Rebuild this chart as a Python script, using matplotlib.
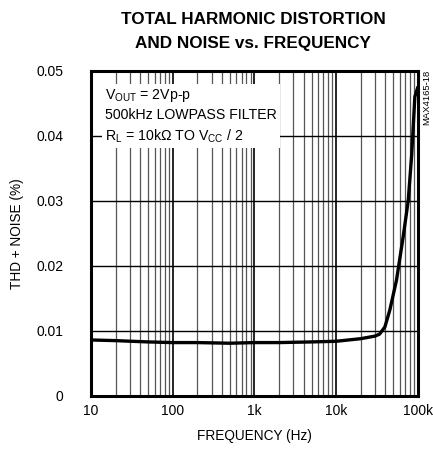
import numpy as np
import matplotlib
matplotlib.use("Agg")
import matplotlib.pyplot as plt
from matplotlib.ticker import FixedLocator, NullFormatter

plt.rcParams['font.family'] = ['Liberation Sans', 'DejaVu Sans']
plt.rcParams['mathtext.fontset'] = 'custom'
plt.rcParams['mathtext.rm'] = 'Liberation Sans'
plt.rcParams['mathtext.it'] = 'Liberation Sans'

# data
freq = [10, 20, 50, 100, 200, 500, 1000, 2000, 5000, 10000, 20000, 30000,
        34000, 39500, 45400, 54800, 66200, 76200, 84000, 91900, 100000]
thd = [0.0086, 0.0085, 0.0083, 0.0082, 0.0082, 0.0081, 0.0082, 0.0082, 0.0083, 0.0084, 0.0088, 0.0092,
       0.0095, 0.0106, 0.0132, 0.0178, 0.0245, 0.0300, 0.0370, 0.0460, 0.0475]

xticks = [10, 100, 1000, 10000, 100000]
xlabels = ['10', '100', '1k', '10k', '100k']
yticks = [0, 0.01, 0.02, 0.03, 0.04, 0.05]
ylabels = ['0', '0.01', '0.02', '0.03', '0.04', '0.05']

fig = plt.figure(figsize=(4.33, 4.54), dpi=100)
ax = fig.add_axes([0.210, 0.128, 0.755, 0.716])

ax.set_xscale('log')
ax.set_xlim(10, 100000)
ax.set_ylim(0, 0.05)

minor = [m * 10**d for d in range(1, 5) for m in range(2, 10)]
for f in minor:
    ax.axvline(f, color='#555555', lw=0.9, zorder=1)
for f in xticks[1:-1]:
    ax.axvline(f, color='black', lw=1.2, zorder=1)
for v in yticks[1:-1]:
    ax.axhline(v, color='black', lw=1.0, zorder=1)

ax.plot(freq, thd, color='black', lw=2.4, zorder=3, solid_capstyle='round')

ax.set_xticks(xticks)
ax.set_xticklabels(xlabels)
ax.xaxis.set_minor_locator(FixedLocator(minor))
ax.xaxis.set_minor_formatter(NullFormatter())
ax.set_yticks(yticks)
ax.set_yticklabels(ylabels)
ax.tick_params(which='both', length=0, labelsize=10)
ax.tick_params(axis='x', pad=6)
ax.tick_params(axis='y', pad=20)
for s in ax.spines.values():
    s.set_linewidth(2.2)

ax.set_xlabel('FREQUENCY (Hz)', fontsize=9.8, labelpad=8)
ax.set_ylabel('THD + NOISE (%)', fontsize=9.8, labelpad=9)

fig.text(0.585, 0.973, 'TOTAL HARMONIC DISTORTION\nAND NOISE vs. FREQUENCY',
         ha='center', va='top', fontsize=12.3, fontweight='bold', linespacing=1.75)

ax.text(0.043, 0.95,
        'V$_{\\mathrm{OUT}}$ = 2Vp-p\n500kHz LOWPASS FILTER\nR$_{\\mathrm{L}}$ = 10k\u03a9 TO V$_{\\mathrm{CC}}$ / 2',
        transform=ax.transAxes, ha='left', va='top', fontsize=10.2, linespacing=1.4, zorder=4,
        bbox=dict(facecolor='white', edgecolor='none', pad=2))

fig.text(0.986, 0.846, 'MAX4165-18', rotation=90, ha='center', va='top', fontsize=6.8)

fig.savefig('out.png', dpi=100)
